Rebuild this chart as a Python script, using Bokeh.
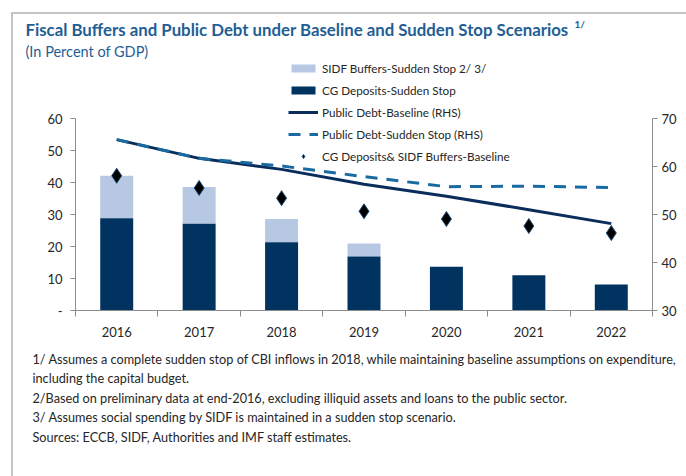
from bokeh.plotting import figure
from bokeh.layouts import column
from bokeh.models import (ColumnDataSource, Range1d, LinearAxis, FixedTicker, Label,
                          Legend, LegendItem)
from bokeh.embed import file_html
from bokeh.resources import INLINE

# ---- data ----
years = ["2016", "2017", "2018", "2019", "2020", "2021", "2022"]
cg_deposits_ss = [28.8, 27.1, 21.3, 16.9, 13.7, 11.0, 8.1]
sidf_buffers_ss = [13.3, 11.5, 7.3, 4.0, 0.0, 0.0, 0.0]
buffers_baseline = [42.1, 38.3, 35.1, 31.0, 28.6, 26.4, 24.2]
debt_baseline = [65.6, 61.7, 59.4, 56.3, 53.8, 51.0, 48.1]
debt_sudden_stop = [65.6, 61.7, 60.1, 57.9, 55.8, 55.9, 55.6]
left_ticks = [0, 10, 20, 30, 40, 50, 60]
right_ticks = [30, 40, 50, 60, 70]
title_text = "Fiscal Buffers and Public Debt under Baseline and Sudden Stop Scenarios"
subtitle_text = "(In Percent of GDP)"
notes = [
    "1/ Assumes a complete sudden stop of CBI inflows in 2018, while maintaining baseline assumptions on expenditure,",
    "including the capital budget.",
    "2/Based on preliminary data at end-2016, excluding illiquid assets and loans to the public sector.",
    "3/ Assumes social spending by SIDF is maintained in a sudden stop scenario.",
    "Sources: ECCB, SIDF, Authorities and IMF staff estimates.",
]

FONT = "Lato"
TITLE_C = "#1F5E95"
DARK = "#00335F"
LIGHT = "#B6C8E2"
LINE_BASE = "#0B2D5B"
LINE_SS = "#1A6AA2"
AXIS_C = "#8C8C8C"
TEXT_C = "#262626"
FRAME_C = "#C4C4C4"

W = 686
HEAD_H = 61          # header strip (title, subtitle)
PLOT_TOP = 118       # page y of left value 60
PLOT_BOT = 310       # page y of value 0
PLOT_L, PLOT_R = 75, 652
MAIN_BOTTOM_BORDER = 38
FOOT_H = 476 - (PLOT_BOT + MAIN_BOTTOM_BORDER)


def strip(height):
    f = figure(width=W, height=height, output_backend="svg", toolbar_location=None,
               x_range=Range1d(0, W), y_range=Range1d(height, 0),
               x_axis_type=None, y_axis_type=None, frame_align=False,
               min_border_left=0, min_border_right=0, min_border_top=0, min_border_bottom=0)
    f.outline_line_color = None
    f.grid.visible = False
    f.background_fill_color = None
    f.border_fill_color = None
    return f


def lab(f, x, y, text, size, color=TEXT_C, style="normal"):
    f.add_layout(Label(x=x, y=y, text=text, text_font=FONT, text_font_size=size,
                       text_color=color, text_font_style=style,
                       text_baseline="middle", text_align="left"))


# ---- header ----
head = strip(HEAD_H)
lab(head, 25, 29, title_text, "16.8px", TITLE_C, "bold")
lab(head, 574, 23, "1/", "10px", TITLE_C, "bold")
lab(head, 25, 51, subtitle_text, "14.5px", TITLE_C)

# ---- main chart ----
xc = [i + 0.5 for i in range(len(years))]
sidf_top = [a + b for a, b in zip(cg_deposits_ss, sidf_buffers_ss)]
src = ColumnDataSource(dict(x=xc, cg=cg_deposits_ss, top=sidf_top,
                            base=buffers_baseline, db=debt_baseline, ds=debt_sudden_stop))

l_ppu = (PLOT_BOT - PLOT_TOP) / 60.0
r_ppu = (PLOT_BOT - PLOT_TOP) / 40.0
extra = PLOT_TOP - HEAD_H
p = figure(frame_width=PLOT_R - PLOT_L, frame_height=PLOT_BOT - HEAD_H,
           output_backend="svg", toolbar_location=None, frame_align=False,
           x_range=Range1d(0, len(years)), y_range=Range1d(0, 60 + extra / l_ppu),
           min_border_left=PLOT_L, min_border_right=W - PLOT_R, min_border_top=0,
           min_border_bottom=MAIN_BOTTOM_BORDER, x_axis_type=None, y_axis_type=None)
p.outline_line_color = None
p.grid.visible = False
p.background_fill_color = None
p.border_fill_color = None
p.extra_y_ranges = {"rhs": Range1d(30, 70 + extra / r_ppu)}

r_sidf = p.vbar(x="x", bottom="cg", top="top", width=0.4, source=src, fill_color=LIGHT, line_color=None)
r_cg = p.vbar(x="x", top="cg", width=0.4, source=src, fill_color=DARK, line_color=None)
r_db = p.line("x", "db", source=src, y_range_name="rhs", line_color=LINE_BASE, line_width=3)
r_ds = p.line("x", "ds", source=src, y_range_name="rhs", line_color=LINE_SS, line_width=3,
              line_dash="12 9")
r_dia = p.scatter("x", "base", source=src, marker="diamond", size=15, fill_color="black",
                  line_color="#1F4E79", line_width=1)

xax = LinearAxis(ticker=FixedTicker(ticks=xc, minor_ticks=list(range(len(years) + 1))),
                 major_label_overrides={x: y for x, y in zip(xc, years)})
xax.major_tick_out = 0
xax.major_tick_in = 0
xax.minor_tick_out = 6
xax.minor_tick_in = 0
xax.minor_tick_line_color = AXIS_C
xax.axis_line_color = AXIS_C
xax.major_label_standoff = 10
xax.major_label_text_font = FONT
xax.major_label_text_font_size = "13px"
xax.major_label_text_color = TEXT_C
p.add_layout(xax, "below")

lax = LinearAxis(ticker=FixedTicker(ticks=left_ticks), bounds=(0, 60),
                 major_label_overrides={0: "-"})
lax.major_tick_out = 5
lax.major_tick_in = 0
lax.minor_tick_line_color = None
lax.axis_line_color = AXIS_C
lax.major_tick_line_color = AXIS_C
lax.major_label_standoff = 8
lax.major_label_text_font = FONT
lax.major_label_text_font_size = "13px"
lax.major_label_text_color = TEXT_C
p.add_layout(lax, "left")

rax = LinearAxis(y_range_name="rhs", ticker=FixedTicker(ticks=right_ticks), bounds=(30, 70))
rax.major_tick_out = 5
rax.major_tick_in = 0
rax.minor_tick_line_color = None
rax.axis_line_color = AXIS_C
rax.major_tick_line_color = AXIS_C
rax.major_label_standoff = 4
rax.major_label_text_font = FONT
rax.major_label_text_font_size = "13px"
rax.major_label_text_color = TEXT_C
p.add_layout(rax, "right")

legend = Legend(items=[
    LegendItem(label="SIDF Buffers-Sudden Stop 2/ 3/", renderers=[r_sidf]),
    LegendItem(label="CG Deposits-Sudden Stop", renderers=[r_cg]),
    LegendItem(label="Public Debt-Baseline (RHS)", renderers=[r_db]),
    LegendItem(label="Public Debt-Sudden Stop (RHS)", renderers=[r_ds]),
    LegendItem(label="CG Deposits& SIDF Buffers-Baseline", renderers=[r_dia]),
], location=(288 - PLOT_L, PLOT_BOT - 163))
legend.padding = 0
legend.margin = 0
legend.spacing = 8
legend.glyph_width = 30
legend.glyph_height = 10
legend.label_height = 10
legend.label_standoff = 4
legend.border_line_alpha = 0
legend.background_fill_alpha = 0
legend.label_text_font = FONT
legend.label_text_font_size = "11.7px"
legend.label_text_color = TEXT_C
legend.label_text_baseline = "middle"
p.add_layout(legend, "center")

# ---- footer ----
foot = strip(FOOT_H)
y0 = PLOT_BOT + MAIN_BOTTOM_BORDER
for i, t in enumerate(notes):
    lab(foot, 32, 358 + 19.5 * i - y0, t, "12.7px")

frame_css = (f"linear-gradient({FRAME_C}, {FRAME_C}) 11px 12px / 2px 470px no-repeat, "
             f"linear-gradient({FRAME_C}, {FRAME_C}) 11px 12px / 690px 2px no-repeat, white")
layout = column(head, p, foot, spacing=0, styles={"background": frame_css})

open("out.html", "w").write(file_html(layout, INLINE))
